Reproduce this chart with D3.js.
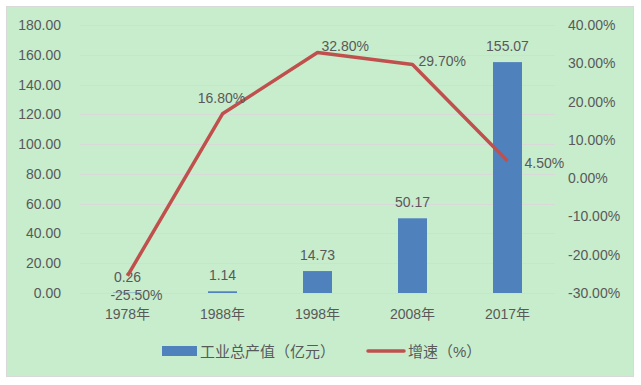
<!DOCTYPE html>
<html>
<head>
<meta charset="utf-8">
<script src="https://cdn.jsdelivr.net/npm/d3@7/dist/d3.min.js"></script>
<style>
  html, body { margin: 0; padding: 0; background: #fff; }
  svg text { font-family: "Liberation Sans", "Noto Sans CJK SC", sans-serif; fill: #595959; }
</style>
</head>
<body>
<svg id="chart" width="641" height="385"></svg>
<script>
var years = ['1978年', '1988年', '1998年', '2008年', '2017年'];
var output = [0.26, 1.14, 14.73, 50.17, 155.07];
var growth = [-25.5, 16.8, 32.8, 29.7, 4.5];
var leftTicks = [0, 20, 40, 60, 80, 100, 120, 140, 160, 180];
var rightTicks = [-30, -20, -10, 0, 10, 20, 30, 40];

// label placement for the growth line, one per point
var lineLabelPos = [
  {dx: 9, dy: 24, anchor: 'middle'},
  {dx: -1, dy: -11, anchor: 'middle'},
  {dx: 4, dy: -2, anchor: 'start'},
  {dx: 6, dy: 2, anchor: 'start'},
  {dx: 17, dy: 7, anchor: 'start'}
];

var fmt = d3.formatLocale({decimal: '.', thousands: ',', grouping: [3], currency: ['', ''], minus: '-'}).format('.2f');
function pct(d) { return fmt(d) + '%'; }

var svg = d3.select('#chart');
var plot = {left: 80, right: 555, top: 25, bottom: 293};

svg.append('rect')
  .attr('x', 6.5).attr('y', 6.5)
  .attr('width', 627).attr('height', 370)
  .attr('fill', '#C7EDCC')
  .attr('stroke', '#d9d9d9');

var x = d3.scaleBand().domain(years).range([plot.left, plot.right]);
var yL = d3.scaleLinear().domain([0, 180]).range([plot.bottom, plot.top]);
var yR = d3.scaleLinear().domain([-30, 40]).range([plot.bottom, plot.top]);

// gridlines
svg.append('g').selectAll('line')
  .data(leftTicks)
  .join('line')
  .attr('x1', plot.left).attr('x2', plot.right)
  .attr('y1', function(d) { return Math.round(yL(d)) + 0.5; })
  .attr('y2', function(d) { return Math.round(yL(d)) + 0.5; })
  .attr('stroke', '#d9d9d9')
  .attr('stroke-width', 1);

// left axis
var leftAxis = d3.axisLeft(yL).tickValues(leftTicks)
  .tickFormat(fmt).tickSize(0).tickPadding(0);
var gl = svg.append('g').attr('transform', 'translate(61,0)').call(leftAxis);
gl.select('.domain').remove();
gl.selectAll('text').attr('font-size', 14).style('fill', '#595959').attr('font-family', null);

// right axis
var rightAxis = d3.axisRight(yR).tickValues(rightTicks)
  .tickFormat(pct).tickSize(0).tickPadding(0);
var gr = svg.append('g').attr('transform', 'translate(568,0)').call(rightAxis);
gr.select('.domain').remove();
gr.selectAll('text').attr('font-size', 14).style('fill', '#595959').attr('font-family', null);

// bottom axis labels
var bottomAxis = d3.axisBottom(x).tickSize(0).tickPadding(0);
var gb = svg.append('g').attr('transform', 'translate(0,309)').call(bottomAxis);
gb.select('.domain').remove();
gb.selectAll('text').attr('font-size', 14).style('fill', '#595959').attr('font-family', null);

// bars
var barW = 29;
svg.append('g').selectAll('rect')
  .data(output)
  .join('rect')
  .attr('x', function(d, i) { return x(years[i]) + x.bandwidth() / 2 - barW / 2; })
  .attr('y', function(d) { return yL(d); })
  .attr('width', barW)
  .attr('height', function(d) { return plot.bottom - yL(d); })
  .attr('fill', '#4F81BD');

svg.append('g').selectAll('text')
  .data(output)
  .join('text')
  .attr('x', function(d, i) { return x(years[i]) + x.bandwidth() / 2; })
  .attr('y', function(d) { return yL(d) - 11; })
  .attr('text-anchor', 'middle')
  .attr('font-size', 14)
  .text(fmt);

// growth line
var line = d3.line()
  .x(function(d, i) { return x(years[i]) + x.bandwidth() / 2; })
  .y(function(d) { return yR(d); });

svg.append('path')
  .datum(growth)
  .attr('d', line)
  .attr('fill', 'none')
  .attr('stroke', '#C0504D')
  .attr('stroke-width', 3.5)
  .attr('stroke-linejoin', 'round');

svg.append('g').selectAll('text')
  .data(growth)
  .join('text')
  .attr('x', function(d, i) { return x(years[i]) + x.bandwidth() / 2 + lineLabelPos[i].dx; })
  .attr('y', function(d, i) { return yR(d) + lineLabelPos[i].dy; })
  .attr('text-anchor', function(d, i) { return lineLabelPos[i].anchor; })
  .attr('font-size', 14)
  .text(pct);

// legend
var legend = svg.append('g');
legend.append('rect')
  .attr('x', 162).attr('y', 346).attr('width', 35).attr('height', 10)
  .attr('fill', '#4F81BD');
legend.append('text')
  .attr('x', 200).attr('y', 356.5)
  .attr('font-size', 15)
  .text('工业总产值（亿元）');
legend.append('line')
  .attr('x1', 368).attr('x2', 404).attr('y1', 351).attr('y2', 351)
  .attr('stroke', '#C0504D').attr('stroke-width', 3.5)
  .attr('stroke-linecap', 'round');
legend.append('text')
  .attr('x', 408).attr('y', 356.5)
  .attr('font-size', 15)
  .text('增速（%）');
</script>
</body>
</html>
